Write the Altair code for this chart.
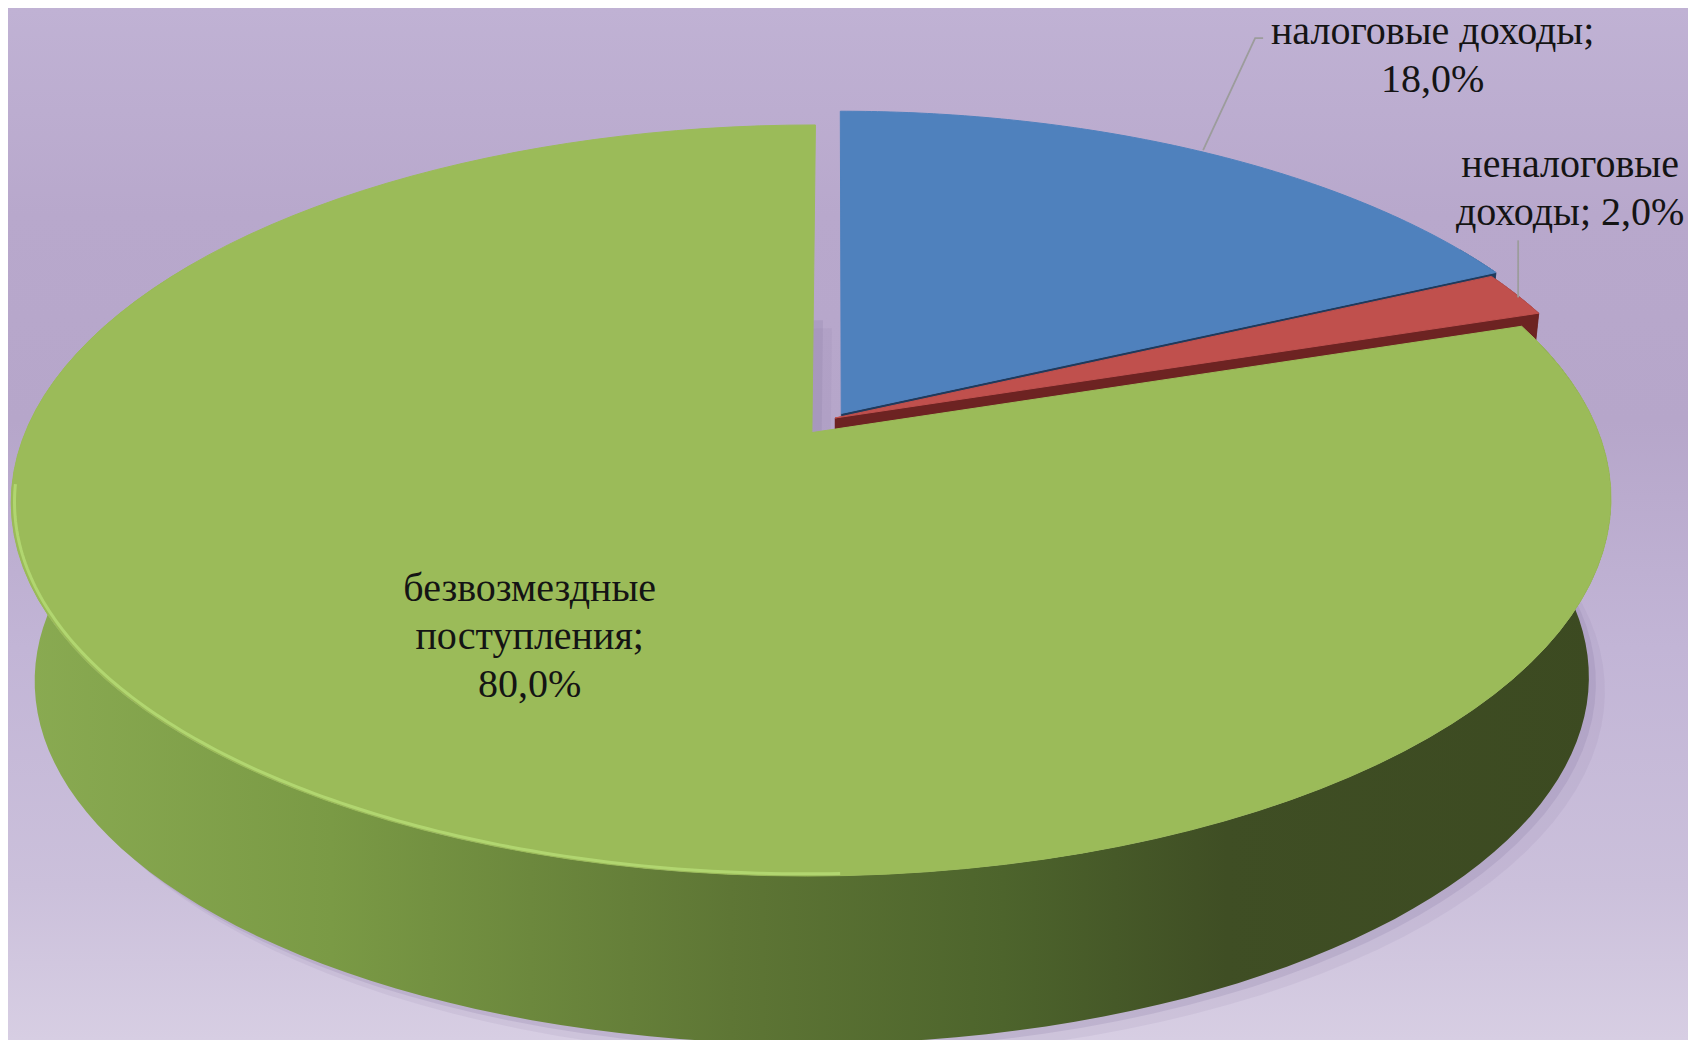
import json
import altair as alt
import pandas as pd

# ---------------- data ----------------
categories = ["налоговые доходы", "неналоговые доходы", "безвозмездные поступления"]
shares = [18.0, 2.0, 80.0]
pct = [f"{v:.1f}".replace(".", ",") + "%" for v in shares]
label_text = [
    f"налоговые доходы;\n{pct[0]}",
    f"неналоговые\nдоходы; {pct[1]}",
    f"безвозмездные\nпоступления;\n{pct[2]}",
]

df = pd.DataFrame({"idx": [0, 1, 2], "cat": categories, "value": shares, "label": label_text})

# ---------------- styles / layout ----------------
TOP_COLORS = ["#4f81bd", "#c0504d", "#9bbb59"]
SIDE_COLORS = ["#1f3a5c", "#6d2322", "#4f6329"]
EXPLODE = [0.015, 0, 0.05]
CX, CY, A, B, P = 835, 418, 781, 358, 0.1795   # perspective of the top face
S, DXB, HB = 0.9715, 0, 181                     # bottom face
N = 120
SERIF = "Liberation Serif"

W, H = 1680, 1032
xs = alt.Scale(domain=[8, 8 + W], nice=False, zero=False)
ys = alt.Scale(domain=[8, 8 + H], nice=False, zero=False, reverse=True)


def PX(u="datum.u", v="datum.v", h="datum.h"):
    return f"{CX} + {A}*(1-{1 - S}*({h}))*({u})/(1+{P}*({v})) + {DXB}*({h})"


def PY(u="datum.u", v="datum.v", h="datum.h"):
    return f"{CY} - {B}*(1-{1 - S}*({h}))*({v})/(1+{P}*({v})) + {HB}*({h})"


def xy():
    return dict(
        x=alt.X("X:Q", scale=xs, axis=None),
        y=alt.Y("Y:Q", scale=ys, axis=None),
    )


base = (
    alt.Chart(df)
    .transform_joinaggregate(total="sum(value)")
    .transform_window(cum="sum(value)", sort=[alt.SortField("idx")], frame=[None, 0])
    .transform_calculate(
        a0="2*PI*(datum.cum-datum.value)/datum.total",
        a1="2*PI*datum.cum/datum.total",
        mid="(datum.a0+datum.a1)/2",
        ex=f"{json.dumps(EXPLODE)}[datum.idx]",
        eu="datum.ex*sin(datum.mid)",
        ev="datum.ex*cos(datum.mid)",
    )
)

# background gradient
bg = alt.Chart(df).mark_rect(
    fill=alt.LinearGradient(
        gradient="linear",
        stops=[
            alt.GradientStop(offset=0, color="#c0b2d4"),
            alt.GradientStop(offset=0.2, color="#b8a8cc"),
            alt.GradientStop(offset=0.4, color="#b6a6ca"),
            alt.GradientStop(offset=0.62, color="#c2b5d6"),
            alt.GradientStop(offset=0.85, color="#cbc0db"),
            alt.GradientStop(offset=1, color="#d7cee3"),
        ],
        x1=0, x2=0, y1=0, y2=1,
    )
).encode(x=alt.value(0), x2=alt.value(W), y=alt.value(0), y2=alt.value(H))


def face(h):
    return base.transform_calculate(st=f"sequence(0,{N + 2})").transform_flatten(["st"]).transform_calculate(
        r="datum.st == 0 ? 0 : 1",
        ang=f"datum.a0 + (datum.a1-datum.a0)*max(datum.st-1,0)/{N}",
        h=str(h),
        u="datum.eu + datum.r*sin(datum.ang)",
        v="datum.ev + datum.r*cos(datum.ang)",
        X=PX(), Y=PY(),
        col=f"{json.dumps(TOP_COLORS)}[datum.idx]",
    )


# soft shadow under the pie
shadow1 = face(1).mark_line(interpolate="linear-closed", fill="#8a7aa2", fillOpacity=0.12,
                            strokeWidth=0, xOffset=16, yOffset=14).encode(
    order=alt.Order("st:Q"), detail="cat:N", **xy())
shadow2 = face(1).mark_line(interpolate="linear-closed", fill="#8a7aa2", fillOpacity=0.22,
                            strokeWidth=0, xOffset=7, yOffset=6).encode(
    order=alt.Order("st:Q"), detail="cat:N", **xy())


def wall_data():
    return base.transform_calculate(
        wa0="max(datum.a0, PI/3)",
        wa1="min(datum.a1, PI*5/3)",
    ).transform_filter("datum.wa1 > datum.wa0").transform_calculate(
        st=f"sequence(0,{2 * N + 2})").transform_flatten(["st"]).transform_calculate(
        k=f"datum.st <= {N} ? datum.st : {2 * N + 1} - datum.st",
        h=f"datum.st <= {N} ? 0 : 1",
        ang=f"datum.wa0 + (datum.wa1-datum.wa0)*datum.k/{N}",
        u="datum.eu + sin(datum.ang)",
        v="datum.ev + cos(datum.ang)",
        X=PX(), Y=PY(),
        col=f"{json.dumps(SIDE_COLORS)}[datum.idx]",
    )


walls = wall_data().transform_filter("datum.idx < 2").mark_line(
    interpolate="linear-closed", strokeWidth=0.5).encode(
    fill=alt.Fill("col:N", scale=None), stroke=alt.Stroke("col:N", scale=None),
    order=alt.Order("st:Q"), detail="cat:N", **xy())

green_wall = wall_data().transform_filter("datum.idx == 2").mark_line(
    interpolate="linear-closed", strokeWidth=0,
    fill=alt.LinearGradient(
        gradient="linear",
        stops=[
            alt.GradientStop(offset=0, color="#8aab52"),
            alt.GradientStop(offset=0.2, color="#7a9a45"),
            alt.GradientStop(offset=0.45, color="#5e7635"),
            alt.GradientStop(offset=0.62, color="#4d642c"),
            alt.GradientStop(offset=0.76, color="#3f4e24"),
            alt.GradientStop(offset=1, color="#3c4a21"),
        ],
        x1=0, x2=1, y1=0, y2=0,
    ),
).encode(order=alt.Order("st:Q"), detail="cat:N", **xy())

# radial cut faces (only those turned towards the viewer)
radial = base.transform_calculate(st="sequence(0,8)").transform_flatten(["st"]).transform_calculate(
    f="floor(datum.st/4)",
    j="datum.st % 4",
).transform_filter(
    "(datum.f == 0 && sin(datum.a0) < -0.01) || (datum.f == 1 && sin(datum.a1) > 0.01)"
).transform_calculate(
    ang="datum.f == 0 ? datum.a0 : datum.a1",
    r="(datum.j == 1 || datum.j == 2) ? 1 : 0",
    h="datum.j >= 2 ? 1 : 0",
    u="datum.eu + datum.r*sin(datum.ang)",
    v="datum.ev + datum.r*cos(datum.ang)",
    X=PX(), Y=PY(),
    grp="datum.idx*2 + datum.f",
    col=f"{json.dumps(SIDE_COLORS)}[datum.idx]",
).mark_line(interpolate="linear-closed", strokeWidth=0.5).encode(
    fill=alt.Fill("col:N", scale=None), stroke=alt.Stroke("col:N", scale=None),
    order=alt.Order("st:Q"), detail="grp:N", **xy())

top = face(0).mark_line(interpolate="linear-closed", strokeWidth=1).encode(
    fill=alt.Fill("col:N", scale=None), stroke=alt.Stroke("col:N", scale=None),
    order=alt.Order("st:Q"), detail="cat:N", **xy())

# bevel highlight on the front rim of the big slice
highlight = base.transform_filter("datum.idx == 2").transform_calculate(
    st=f"sequence(0,{N + 1})").transform_flatten(["st"]).transform_calculate(
    ang=f"PI*178/180 + (PI*84/180)*datum.st/{N}",
    h="0",
    u="datum.eu + 0.996*sin(datum.ang)",
    v="datum.ev + 0.996*cos(datum.ang)",
    X=PX(), Y=PY(),
).mark_line(stroke="#b8df78", strokeWidth=3, opacity=0.75).encode(
    order=alt.Order("st:Q"), **xy())

# leader lines
leaders = base.transform_filter("datum.idx < 2").transform_calculate(
    st="sequence(0,3)").transform_flatten(["st"]).transform_calculate(
    h="0",
    u="datum.eu + sin(datum.mid)",
    v="datum.ev + cos(datum.mid)",
    AX=PX(), AY=PY(),
    X="datum.AX + [[0,52,60],[2,2,2]][datum.idx][datum.st]",
    Y="datum.AY + [[-2,-114,-114],[3,-54,-54]][datum.idx][datum.st]",
).mark_line(stroke="#9c9c9c", strokeWidth=1.8).encode(
    order=alt.Order("st:Q"), detail="cat:N", **xy())

labels = base.transform_calculate(
    lr="[1,1,0.58][datum.idx]",
    h="0",
    u="datum.eu + datum.lr*sin(datum.mid)",
    v="datum.ev + datum.lr*cos(datum.mid)",
    AX=PX(), AY=PY(),
    X="datum.AX + [229.5, 54, 13][datum.idx]",
    Y="datum.AY + [-120, -129.5, -30][datum.idx]",
).mark_text(font=SERIF, fontSize=40, lineHeight=48, lineBreak="\n",
            color="#141414", align="center", baseline="middle").encode(
    text="label:N", **xy())

chart = alt.layer(
    bg, shadow1, shadow2, walls, green_wall, radial, top, highlight, leaders, labels
).properties(
    width=W, height=H, padding=0, background="#bfb1d3",
    autosize=alt.AutoSizeParams(type="none"),
).configure_view(strokeWidth=0)

chart.save("out.html", embed_options={"renderer": "svg", "actions": False})
